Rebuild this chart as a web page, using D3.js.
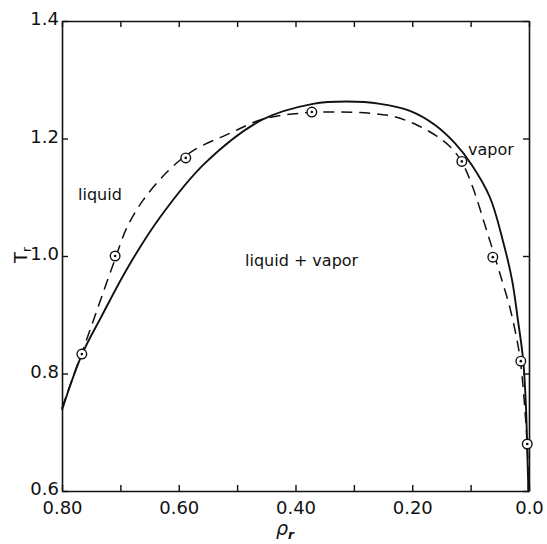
<!DOCTYPE html>
<html>
<head>
<meta charset="utf-8">
<script src="https://cdn.jsdelivr.net/npm/d3@7"></script>
<style>
  html, body { margin: 0; padding: 0; background: #fff; }
  svg { display: block; }
  text { font-family: "DejaVu Sans", sans-serif; fill: #111; }
</style>
</head>
<body>
<script>
// Reduced coexistence curve: reduced density vs reduced temperature

// Smooth curve (solid)
const solidRho = [0.800, 0.766, 0.733, 0.687, 0.632, 0.555, 0.457, 0.370, 0.312, 0.255, 0.204, 0.161, 0.127, 0.098, 0.067, 0.045, 0.029, 0.019, 0.010, 0.005, 0.003, 0.001];
const solidT   = [0.738, 0.832, 0.896, 0.981, 1.066, 1.158, 1.232, 1.259, 1.263, 1.259, 1.247, 1.223, 1.192, 1.155, 1.100, 1.027, 0.959, 0.891, 0.823, 0.738, 0.670, 0.600];

// Fitted curve (dashed)
const dashRho = [0.800, 0.783, 0.766, 0.747, 0.728, 0.709, 0.689, 0.661, 0.618, 0.576, 0.512, 0.456, 0.392, 0.324, 0.272, 0.230, 0.192, 0.158, 0.135, 0.115, 0.096, 0.074, 0.058, 0.045, 0.034, 0.024, 0.017, 0.012, 0.007, 0.003, 0.001];
const dashT   = [0.741, 0.789, 0.835, 0.888, 0.942, 0.995, 1.048, 1.095, 1.145, 1.179, 1.209, 1.233, 1.243, 1.245, 1.243, 1.237, 1.223, 1.204, 1.186, 1.160, 1.116, 1.048, 0.997, 0.954, 0.917, 0.874, 0.837, 0.797, 0.738, 0.678, 0.600];

// Measured points
const pointRho = [0.766, 0.709, 0.588, 0.372, 0.115, 0.062, 0.014, 0.003];
const pointT   = [0.833, 1.000, 1.167, 1.245, 1.161, 0.998, 0.821, 0.680];

// Axis ticks and labels
const xTicks = [0.8, 0.7, 0.6, 0.5, 0.4, 0.3, 0.2, 0.1, 0.0];
const xTickLabels = ["0.80", "", "0.60", "", "0.40", "", "0.20", "", "0.0"];
const yTicks = [0.6, 0.8, 1.0, 1.2, 1.4];
const yTickLabels = ["0.6", "0.8", "1.0", "1.2", "1.4"];

const W = 547, H = 544;
const margin = { left: 62, right: 18, top: 21, bottom: 53 };
const iw = W - margin.left - margin.right;
const ih = H - margin.top - margin.bottom;

const svg = d3.select("body").append("svg").attr("width", W).attr("height", H);
const g = svg.append("g").attr("transform", `translate(${margin.left},${margin.top})`);

const x = d3.scaleLinear().domain([0.8, 0.0]).range([0, iw]);
const y = d3.scaleLinear().domain([0.6, 1.4]).range([ih, 0]);

const ink = "#111";

// Axes with inward ticks
const xb = g.append("g").attr("transform", `translate(0,${ih})`)
  .call(d3.axisBottom(x).tickValues(xTicks).tickSizeInner(-6).tickSizeOuter(0).tickPadding(10)
    .tickFormat((d, i) => xTickLabels[i]));
const xt = g.append("g")
  .call(d3.axisTop(x).tickValues(xTicks).tickSizeInner(-6).tickSizeOuter(0).tickFormat(""));
const yl = g.append("g")
  .call(d3.axisLeft(y).tickValues(yTicks).tickSizeInner(-6).tickSizeOuter(0).tickPadding(3)
    .tickFormat((d, i) => yTickLabels[i]));
const yr = g.append("g").attr("transform", `translate(${iw},0)`)
  .call(d3.axisRight(y).tickValues(yTicks).tickSizeInner(-6).tickSizeOuter(0).tickFormat(""));

[xb, xt, yl, yr].forEach(a => {
  a.selectAll("path.domain").attr("stroke", ink).attr("stroke-width", 1.6);
  a.selectAll(".tick line").attr("stroke", ink).attr("stroke-width", 1.4);
  a.selectAll(".tick text").attr("font-family", "DejaVu Sans, sans-serif").attr("font-size", 18).attr("fill", ink);
});
yl.selectAll(".tick text").attr("dy", "0.22em");

// Curves
const line = d3.line().x(d => x(d[0])).y(d => y(d[1])).curve(d3.curveCatmullRom.alpha(0.5));
const solid = solidRho.map((r, i) => [r, solidT[i]]);
const dashed = dashRho.map((r, i) => [r, dashT[i]]);

g.append("path").datum(solid).attr("d", line)
  .attr("fill", "none").attr("stroke", ink).attr("stroke-width", 1.9);
g.append("path").datum(dashed).attr("d", line)
  .attr("fill", "none").attr("stroke", ink).attr("stroke-width", 1.5)
  .attr("stroke-dasharray", "11,7");

// Data points: open circle with a center dot
const pts = g.append("g").selectAll("g").data(pointRho.map((r, i) => [r, pointT[i]])).join("g")
  .attr("transform", d => `translate(${x(d[0])},${y(d[1])})`);
pts.append("circle").attr("r", 4.8).attr("fill", "#fff").attr("stroke", ink).attr("stroke-width", 1.4);
pts.append("circle").attr("r", 1.3).attr("fill", ink);

// Region labels
g.append("text").attr("x", 78 - margin.left).attr("y", 200 - margin.top)
  .attr("font-size", 16).text("liquid");
g.append("text").attr("x", 245 - margin.left).attr("y", 266 - margin.top)
  .attr("font-size", 16).text("liquid + vapor");
g.append("text").attr("x", 468 - margin.left).attr("y", 155 - margin.top)
  .attr("font-size", 16).text("vapor");

// Axis titles
const yTitle = svg.append("text").attr("transform", `translate(27,255) rotate(-90)`)
  .attr("text-anchor", "middle").attr("font-size", 18);
yTitle.append("tspan").text("T");
yTitle.append("tspan").attr("font-size", 12).attr("dy", 4).text("r");

const xTitle = svg.append("text").attr("x", 285).attr("y", 535)
  .attr("text-anchor", "middle").attr("font-size", 19).attr("font-style", "italic");
xTitle.append("tspan").text("ρ");
xTitle.append("tspan").attr("font-size", 12).attr("dy", 4).attr("font-weight", "bold").text("r");
</script>
</body>
</html>
